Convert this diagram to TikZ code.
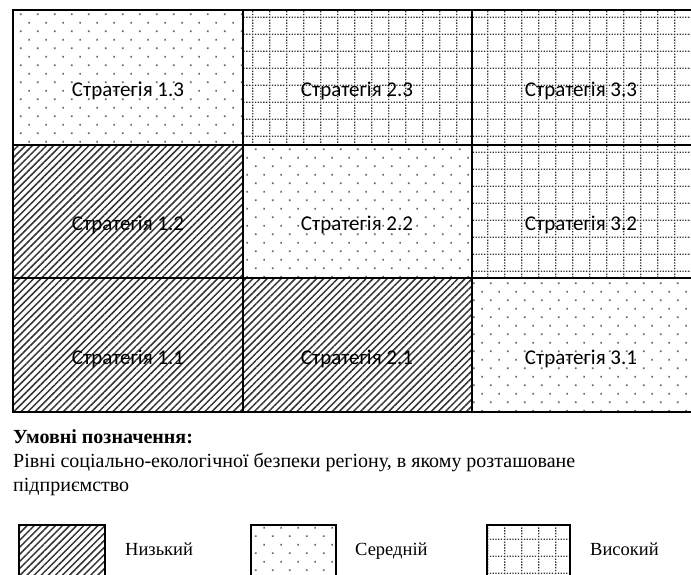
\documentclass[tikz,border=0pt]{standalone}
\usepackage{fontspec}
\setmainfont{Liberation Serif}
\newfontfamily\cellfont{Carlito}
\usetikzlibrary{patterns.meta}

% patterns for the three levels
\tikzdeclarepattern{
  name=middots,
  bottom left={(0pt,0pt)}, top right={(16.8pt,16.8pt)},
  tile size={(16.8pt,16.8pt)},
  code={
    \fill (3pt,3pt) rectangle ++(1.7pt,1.7pt);
    \fill (11.4pt,11.4pt) rectangle ++(1.7pt,1.7pt);
  }
}
\tikzdeclarepattern{
  name=highgrid,
  bottom left={(0pt,0pt)}, top right={(16.8pt,16.8pt)},
  tile size={(16.8pt,16.8pt)},
  code={
    \draw[line width=1.4pt, dash pattern=on 1.4pt off 1.4pt]
      (0pt,0.7pt) -- (16.8pt,0.7pt) (0.7pt,0pt) -- (0.7pt,16.8pt);
  }
}

\tikzset{
  cell/.style={draw=black, line width=2.6pt},
  lowfill/.style={pattern={Lines[angle=45,distance=5pt,line width=1.5pt]}, pattern color=black!80},
  midfill/.style={pattern=middots, pattern color=black!60},
  highfill/.style={pattern=highgrid, pattern color=black!80},
  strat/.style={font=\cellfont\fontsize{21}{25}\selectfont, inner sep=1pt},
  keybox/.style={draw=black, line width=2pt},
  keytext/.style={font=\fontsize{18.5}{22}\selectfont, anchor=base west, inner sep=0pt}
}

\begin{document}
\begin{tikzpicture}[x=1pt, y=-1pt]
  \useasboundingbox (0,0) rectangle (691,574);

  % strategy matrix
  \draw[cell, midfill]  (13,10)   rectangle (243,145);
  \draw[cell, highfill] (243,10)  rectangle (472,145);
  \draw[cell, highfill] (472,10)  rectangle (694,145);
  \draw[cell, lowfill]  (13,145)  rectangle (243,278);
  \draw[cell, midfill]  (243,145) rectangle (472,278);
  \draw[cell, highfill] (472,145) rectangle (694,278);
  \draw[cell, lowfill]  (13,278)  rectangle (243,412);
  \draw[cell, lowfill]  (243,278) rectangle (472,412);
  \draw[cell, midfill]  (472,278) rectangle (694,412);

  \node[strat] (s13) at (128,91)  {Стратегія 1.3};
  \node[strat] (s23) at (357,91)  {Стратегія 2.3};
  \node[strat] (s33) at (581,91)  {Стратегія 3.3};
  \node[strat] (s12) at (128,225) {Стратегія 1.2};
  \node[strat] (s22) at (357,225) {Стратегія 2.2};
  \node[strat] (s32) at (581,225) {Стратегія 3.2};
  \node[strat] (s11) at (128,359) {Стратегія 1.1};
  \node[strat] (s21) at (357,359) {Стратегія 2.1};
  \node[strat] (s31) at (581,359) {Стратегія 3.1};

  % legend
  \node[keytext, font=\fontsize{20}{24}\selectfont, align=left] (legend) at (13,491)
    {\textbf{Умовні позначення:}\\
     Рівні соціально-екологічної безпеки регіону, в якому розташоване\\
     підприємство};

  \draw[keybox, lowfill]  (19,525)  rectangle (105,592);
  \draw[keybox, midfill]  (251,525) rectangle (336,592);
  \draw[keybox, highfill] (487,525) rectangle (570,592);
  \node[keytext] (low)  at (125,555) {Низький};
  \node[keytext] (mid)  at (355,555) {Середній};
  \node[keytext] (high) at (590,555) {Високий};
\end{tikzpicture}
\end{document}
